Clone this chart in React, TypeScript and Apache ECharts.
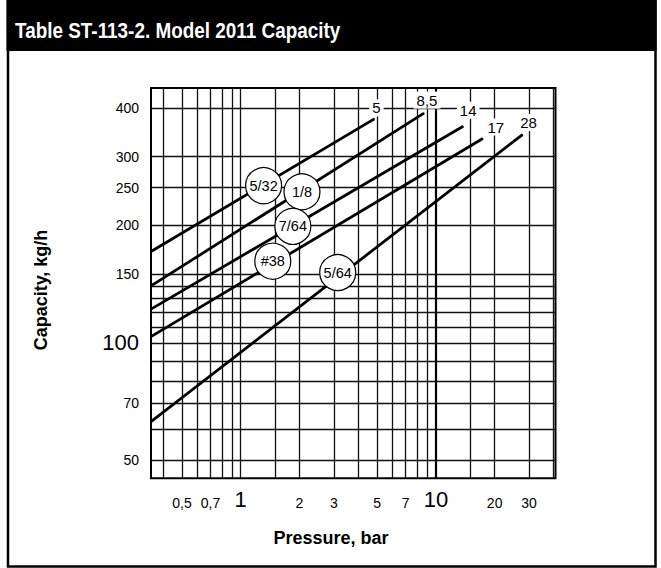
import React, { useEffect, useRef } from "react";
import * as echarts from "echarts";

// ---- data ----
const pressureGrid = [0.4, 0.5, 0.6, 0.7, 0.8, 0.9, 1, 1.5, 2, 3, 4, 5, 6, 7, 8, 9, 10, 15, 20, 30, 40];
const capacityGrid = [50, 60, 70, 80, 90, 100, 110, 120, 130, 140, 150, 200, 250, 300, 400];
const pressureTicks = [0.5, 0.7, 1, 2, 3, 5, 7, 10, 20, 30];
const capacityTicks = [50, 70, 100, 150, 200, 250, 300, 400];
const bigTicks = [1, 10, 100];

const orifices = ["5/32", "1/8", "7/64", "#38", "5/64"];
const maxPressureLabels = ["5", "8,5", "14", "17", "28"];
const startPressure = [0.347, 0.347, 0.347, 0.347, 0.347];
const startCapacity = [171.5, 140.0, 122.1, 103.8, 62.9];
const endPressure = [4.84, 8.69, 13.8, 17.4, 27.8];
const endCapacity = [375, 388, 359, 334, 342];
const badgePressure = [1.31, 2.06, 1.85, 1.46, 3.14];
const badgeCapacity = [253, 244, 199, 162, 151.5];

// ---- styles ----
const endLabelOffsets = [
  [2, -11],
  [3, -13],
  [5, -16],
  [13, -11.5],
  [6, -12],
];
const FONT = '"Liberation Sans", Arial, Helvetica, sans-serif';

export default function App() {
  const ref = useRef<HTMLDivElement>(null);

  useEffect(() => {
    document.body.style.margin = "0";
    const chart = echarts.init(ref.current!, null, { renderer: "svg" });

    const fmt = (v: number) => {
      const s = String(v).replace(".", ",");
      return bigTicks.includes(v) ? `{b|${s}}` : `{s|${s}}`;
    };

    const endLabelStyle = {
      show: true,
      position: "inside",
      fontFamily: FONT,
      fontSize: 15,
      color: "#000",
      backgroundColor: "#fff",
      padding: [1, 3],
    };

    const curveSeries = orifices.map((name, i) => ({
      type: "line",
      name,
      z: 3,
      symbol: "circle",
      symbolSize: 1,
      showSymbol: true,
      itemStyle: { color: "#000" },
      lineStyle: { color: "#000", width: 2.8 },
      label: { show: false },
      data: [
        [startPressure[i], startCapacity[i]],
        {
          value: [endPressure[i], endCapacity[i]],
          label: { ...endLabelStyle, formatter: maxPressureLabels[i], offset: endLabelOffsets[i] },
        },
      ],
    }));

    const option: any = {
      animation: false,
      grid: {
        left: 151,
        right: 105.5,
        top: 88,
        bottom: 89.7,
        show: true,
        borderColor: "#000",
        borderWidth: 2,
        backgroundColor: "#fff",
      },
      xAxis: {
        type: "log",
        logBase: 10,
        min: 0.347,
        max: 41,
        axisLine: { show: false },
        axisTick: { show: false },
        splitLine: { show: false },
        minorSplitLine: { show: false },
        axisLabel: {
          customValues: pressureTicks,
          formatter: fmt,
          margin: 32,
          verticalAlign: "bottom",
          color: "#000",
          fontFamily: FONT,
          rich: {
            s: { fontSize: 14, fontFamily: FONT, color: "#000" },
            b: { fontSize: 22, fontFamily: FONT, color: "#000" },
          },
        },
      },
      yAxis: {
        type: "log",
        logBase: 10,
        min: 45,
        max: 450,
        axisLine: { show: false },
        axisTick: { show: false },
        splitLine: { show: false },
        axisLabel: {
          customValues: capacityTicks,
          formatter: fmt,
          margin: 12,
          color: "#000",
          fontFamily: FONT,
          rich: {
            s: { fontSize: 14, fontFamily: FONT, color: "#000" },
            b: { fontSize: 22, fontFamily: FONT, color: "#000" },
          },
        },
      },
      series: [
        {
          type: "line",
          name: "grid",
          z: 1,
          data: [],
          markLine: {
            z: 1,
            silent: true,
            symbol: ["none", "none"],
            label: { show: false },
            emphasis: { disabled: true },
            lineStyle: { color: "#111", width: 1.3, type: "solid" },
            data: [
              ...pressureGrid.map((v) =>
                v === 10 ? { xAxis: v, lineStyle: { width: 2.2, color: "#000", type: "solid" } } : { xAxis: v }
              ),
              ...capacityGrid.map((v) => ({ yAxis: v })),
            ],
          },
        },
        ...curveSeries,
        {
          type: "scatter",
          name: "orifice",
          z: 6,
          symbol: "circle",
          symbolSize: 36,
          itemStyle: { color: "#fff", borderColor: "#000", borderWidth: 1.2, opacity: 1 },
          label: {
            show: true,
            position: "inside",
            formatter: "{b}",
            fontFamily: FONT,
            fontSize: 14.5,
            color: "#000",
          },
          data: orifices.map((name, i) => ({ name, value: [badgePressure[i], badgeCapacity[i]] })),
        },
      ],
      graphic: [
        {
          type: "rect",
          z: 0,
          shape: { x: 6.5, y: 0, width: 650, height: 51 },
          style: { fill: "#000" },
        },
        {
          type: "text",
          z: 10,
          x: 15,
          y: 30,
          scaleX: 0.86,
          style: {
            text: "Table ST-113-2. Model 2011 Capacity",
            fill: "#fff",
            fontFamily: FONT,
            fontWeight: "bold",
            fontSize: 22,
            verticalAlign: "middle",
            align: "left",
          },
        },
        {
          type: "rect",
          z: 10,
          shape: { x: 8, y: -2, width: 647.5, height: 568.5 },
          style: { fill: "none", stroke: "#000", lineWidth: 2.5 },
        },
        {
          type: "text",
          z: 10,
          x: 41,
          y: 290,
          rotation: Math.PI / 2,
          style: {
            text: "Capacity, kg/h",
            fill: "#000",
            fontFamily: FONT,
            fontWeight: "bold",
            fontSize: 18,
            align: "center",
            verticalAlign: "middle",
          },
        },
        {
          type: "text",
          z: 10,
          x: 331,
          y: 538,
          style: {
            text: "Pressure, bar",
            fill: "#000",
            fontFamily: FONT,
            fontWeight: "bold",
            fontSize: 18,
            align: "center",
            verticalAlign: "middle",
          },
        },
      ],
    };

    chart.setOption(option);
    return () => chart.dispose();
  }, []);

  return <div ref={ref} style={{ width: 661, height: 568, background: "#fff" }} />;
}
